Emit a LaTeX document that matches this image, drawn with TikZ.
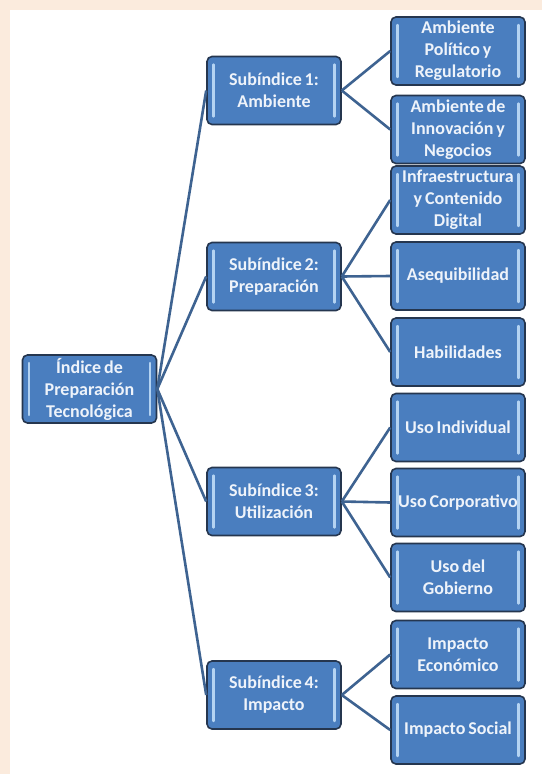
\documentclass[tikz,border=0pt]{standalone}
\usepackage{fontspec}
\setmainfont{Carlito}
\definecolor{peach}{HTML}{FBEBDD}
\definecolor{boxfill}{HTML}{4A7EBF}
\definecolor{boxborder}{HTML}{25364F}
\definecolor{barcol}{HTML}{B4D3F2}
\definecolor{linkcol}{HTML}{3E6391}
\definecolor{txtcol}{HTML}{EEF3FA}
\newcommand{\tightspaces}{\spaceskip=0.16em\relax}
\tikzset{
  box/.style={rectangle, draw=boxborder, line width=1.6pt, rounded corners=5pt,
    fill=boxfill, text=txtcol,
    font=\bfseries\fontsize{18}{22}\selectfont,
    execute at begin node=\tightspaces,
    align=center, inner sep=0pt, text width=134pt, minimum height=68pt,
    path picture={
      \draw[barcol, line width=2.4pt, line cap=round]
        ([xshift=6.5pt,yshift=-8pt]path picture bounding box.north west) --
        ([xshift=6.5pt,yshift=8pt]path picture bounding box.south west);
      \draw[barcol, line width=2.4pt, line cap=round]
        ([xshift=-6.5pt,yshift=-8pt]path picture bounding box.north east) --
        ([xshift=-6.5pt,yshift=8pt]path picture bounding box.south east);
    }},
  link/.style={draw=linkcol, line width=2.6pt}
}
\begin{document}
\begin{tikzpicture}[x=1pt,y=-1pt]
\useasboundingbox (0,0) rectangle (542,774);
\fill[peach] (0,0) rectangle (542,774);
\fill[white] (10,10) rectangle (542,774);

\node[box] (root) at (89.5,389) {Índice de\\Preparación\\Tecnológica};

\node[box] (s1) at (274,90.5) {Subíndice 1:\\Ambiente};
\node[box] (s2) at (274,276.5) {Subíndice 2:\\Preparación};
\node[box] (s3) at (274,501.5) {Subíndice 3:\\Utilización};
\node[box] (s4) at (274,695) {Subíndice 4:\\Impacto};

\node[box] (l1) at (458,51) {Ambiente\\Político y\\Regulatorio};
\node[box] (l2) at (458,129.5) {Ambiente de\\Innovación y\\Negocios};
\node[box] (l3) at (458,200) {Infraestructura\\y Contenido\\Digital};
\node[box] (l4) at (458,276) {Asequibilidad};
\node[box] (l5) at (458,352) {Habilidades};
\node[box] (l6) at (458,427.5) {Uso Individual};
\node[box] (l7) at (458,502.5) {Uso Corporativo};
\node[box] (l8) at (458,577.5) {Uso del\\Gobierno};
\node[box] (l9) at (458,654.5) {Impacto\\Económico};
\node[box] (l10) at (458,730) {Impacto Social};

\foreach \s in {s1,s2,s3,s4} \draw[link] (root.east) -- (\s.west);
\draw[link] (s1.east) -- (l1.west);
\draw[link] (s1.east) -- (l2.west);
\draw[link] (s2.east) -- (l3.west);
\draw[link] (s2.east) -- (l4.west);
\draw[link] (s2.east) -- (l5.west);
\draw[link] (s3.east) -- (l6.west);
\draw[link] (s3.east) -- (l7.west);
\draw[link] (s3.east) -- (l8.west);
\draw[link] (s4.east) -- (l9.west);
\draw[link] (s4.east) -- (l10.west);
\end{tikzpicture}
\end{document}
